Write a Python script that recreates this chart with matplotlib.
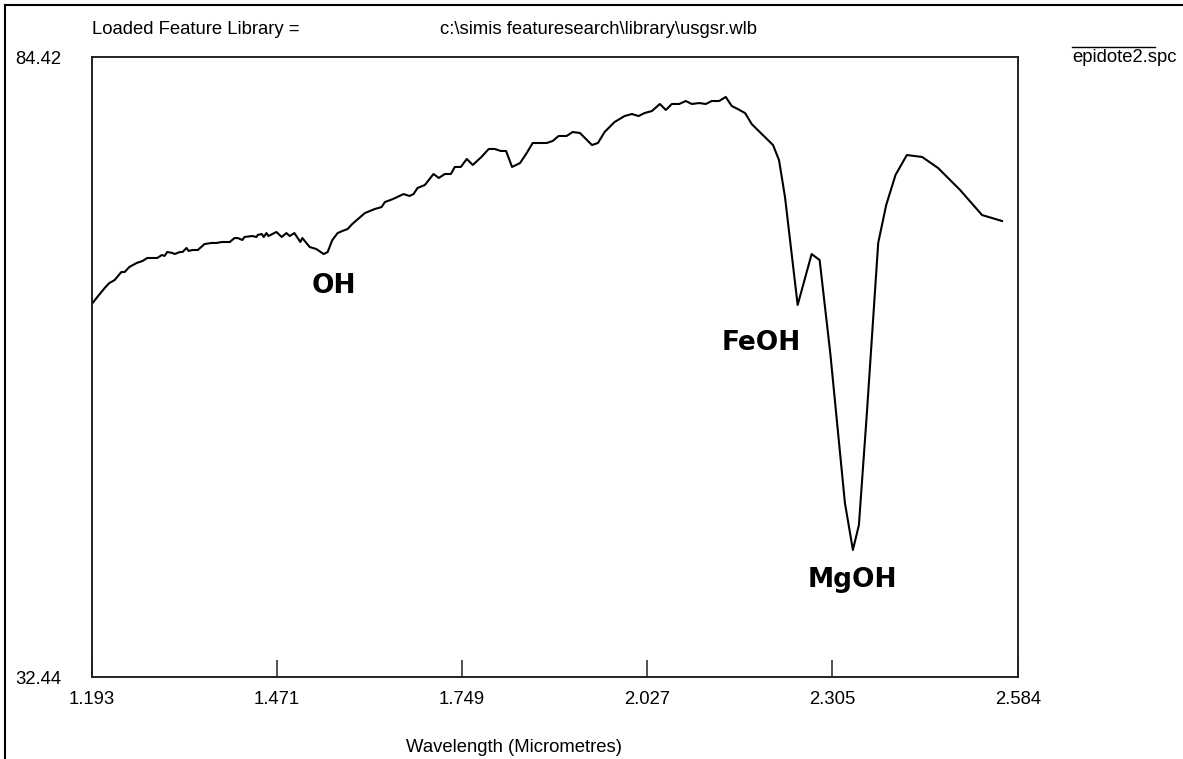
import matplotlib
matplotlib.use("Agg")
import matplotlib.pyplot as plt
from matplotlib.lines import Line2D

# epidote2.spc reflectance spectrum
wavelength = [
    1.194, 1.201, 1.212, 1.219, 1.227, 1.237, 1.242, 1.249, 1.260, 1.269,
    1.276, 1.291, 1.298, 1.302, 1.306, 1.314, 1.317, 1.325, 1.329, 1.335,
    1.338, 1.344, 1.352, 1.362, 1.373, 1.380, 1.388, 1.400, 1.407, 1.412,
    1.419, 1.422, 1.434, 1.440, 1.442, 1.448, 1.451, 1.455, 1.458, 1.470,
    1.478, 1.485, 1.490, 1.497, 1.506, 1.509, 1.520, 1.530, 1.541, 1.547,
    1.554, 1.562, 1.569, 1.577, 1.584, 1.603, 1.618, 1.628, 1.633, 1.645,
    1.661, 1.670, 1.676, 1.682, 1.693, 1.699, 1.706, 1.714, 1.723, 1.732,
    1.738, 1.747, 1.756, 1.765, 1.778, 1.789, 1.798, 1.807, 1.815, 1.824,
    1.836, 1.846, 1.855, 1.876, 1.885, 1.894, 1.906, 1.915, 1.926, 1.944,
    1.953, 1.963, 1.978, 1.993, 2.004, 2.014, 2.023, 2.034, 2.046, 2.055,
    2.064, 2.075, 2.085, 2.094, 2.105, 2.115, 2.124, 2.135, 2.145, 2.154,
    2.163, 2.174, 2.184, 2.193, 2.216, 2.225, 2.234, 2.253, 2.274, 2.286,
    2.302, 2.324, 2.336, 2.345, 2.357, 2.374, 2.386, 2.400, 2.417, 2.440,
    2.464, 2.497, 2.530, 2.560,
]
reflectance = [
    63.80, 64.30, 65.05, 65.47, 65.72, 66.39, 66.39, 66.81, 67.15, 67.32,
    67.57, 67.57, 67.82, 67.74, 68.07, 67.99, 67.90, 68.07, 68.07, 68.41,
    68.16, 68.24, 68.24, 68.74, 68.83, 68.83, 68.91, 68.91, 69.24, 69.24,
    69.08, 69.33, 69.41, 69.33, 69.50, 69.58, 69.33, 69.66, 69.41, 69.75,
    69.33, 69.66, 69.41, 69.66, 68.91, 69.24, 68.49, 68.32, 67.90, 68.07,
    69.08, 69.66, 69.83, 70.00, 70.42, 71.34, 71.68, 71.84, 72.26, 72.51,
    72.93, 72.77, 72.93, 73.44, 73.69, 74.11, 74.61, 74.28, 74.61, 74.61,
    75.20, 75.20, 75.87, 75.37, 76.04, 76.71, 76.71, 76.54, 76.54, 75.20,
    75.53, 76.37, 77.21, 77.21, 77.38, 77.80, 77.80, 78.13, 78.05, 77.04,
    77.21, 78.13, 78.97, 79.47, 79.64, 79.47, 79.72, 79.89, 80.48, 79.98,
    80.48, 80.48, 80.73, 80.48, 80.56, 80.48, 80.73, 80.73, 81.07, 80.31,
    80.06, 79.72, 78.80, 78.30, 77.04, 75.78, 72.68, 63.63, 67.90, 67.40,
    59.60, 47.03, 43.09, 45.18, 54.57, 68.83, 72.01, 74.53, 76.20, 76.04,
    75.11, 73.27, 71.17, 70.67,
]

x_ticks = [1.193, 1.471, 1.749, 2.027, 2.305, 2.584]
y_ticks = [32.44, 84.42]

features = ["OH", "FeOH", "MgOH"]
feature_x = [1.556, 2.198, 2.335]
feature_y = [64.63, 59.86, 40.0]

plt.rcParams["font.family"] = ["Liberation Sans", "DejaVu Sans"]
fs = 13.3

fig = plt.figure(figsize=(11.83, 7.59), dpi=100)
ax = fig.add_axes([92 / 1183, 1 - 677 / 759, 926 / 1183, 620 / 759])

ax.plot(wavelength, reflectance, color="black", lw=1.5)

ax.set_xlim(x_ticks[0], x_ticks[-1])
ax.set_ylim(y_ticks[0], y_ticks[-1])
ax.set_xticks(x_ticks)
ax.set_xticklabels([f"{t:.3f}" for t in x_ticks], fontsize=fs)
ax.set_yticks(y_ticks)
ax.set_yticklabels([f"{t:.2f}" for t in y_ticks], fontsize=fs)
ax.tick_params(axis="x", direction="in", length=12, width=1.1, color="#222222", pad=10)
ax.tick_params(axis="y", length=0, pad=22)
for s in ax.spines.values():
    s.set_linewidth(1.4)
    s.set_color("#222222")

for name, fx, fy in zip(features, feature_x, feature_y):
    ax.text(fx, fy, name, ha="center", va="baseline", fontsize=19,
            fontweight="bold", family="DejaVu Sans")

fig.text(514 / 1183, 1 - 748 / 759, "Wavelength (Micrometres)", ha="center",
         va="center", fontsize=fs)
fig.text(92 / 1183, 1 - 30 / 759, "Loaded Feature Library =", ha="left",
         va="center", fontsize=fs)
fig.text(440 / 1183, 1 - 30 / 759, "c:\\simis featuresearch\\library\\usgsr.wlb",
         ha="left", va="center", fontsize=fs)

# legend entry at the right
fig.add_artist(Line2D([1072 / 1183, 1155 / 1183], [1 - 47 / 759, 1 - 47 / 759],
                      color="black", lw=1.0))
fig.text(1072 / 1183, 1 - 58 / 759, "epidote2.spc", ha="left", va="center",
         fontsize=fs)

# outer frame (top and left edges)
fig.add_artist(Line2D([5 / 1183, 1], [1 - 5 / 759, 1 - 5 / 759], color="black", lw=1.5))
fig.add_artist(Line2D([5 / 1183, 5 / 1183], [0, 1 - 5 / 759], color="black", lw=1.5))

fig.savefig("out.png", dpi=100)
